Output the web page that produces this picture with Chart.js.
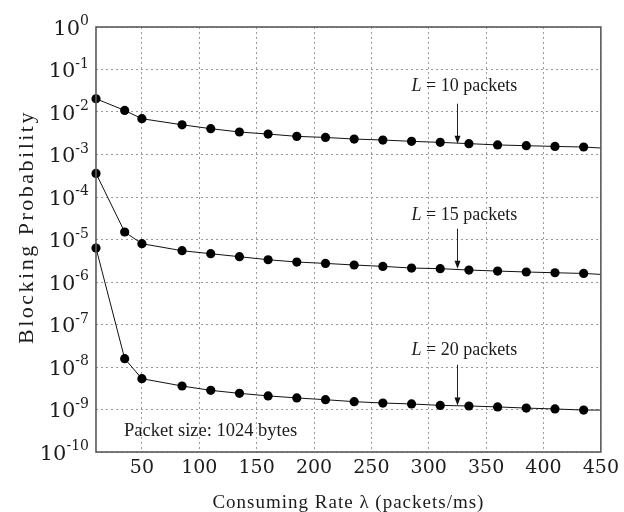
<!DOCTYPE html>
<html>
<head>
<meta charset="utf-8">
<script src="https://cdn.jsdelivr.net/npm/chart.js@4.4.1/dist/chart.umd.min.js"></script>
<style>
  html, body { margin: 0; padding: 0; background: #fff; }
  #wrap { width: 624px; height: 512px; }
</style>
</head>
<body>
<div id="wrap"><canvas id="chart" width="624" height="512"></canvas></div>
<script>
// -----------------------------------------------------------------
// data
const rates = [10, 35, 50, 85, 110, 135, 160, 185, 210, 235, 260, 285, 310, 335, 360, 385, 410, 435, 450];

const blockL10 = [2.05e-2, 1.09e-2, 6.95e-3, 5.0e-3, 4.05e-3, 3.38e-3, 3.03e-3, 2.67e-3, 2.52e-3, 2.31e-3,
  2.19e-3, 2.04e-3, 1.93e-3, 1.80e-3, 1.68e-3, 1.61e-3, 1.55e-3, 1.50e-3, 1.42e-3];
const blockL15 = [3.59e-4, 1.5e-5, 7.97e-6, 5.45e-6, 4.63e-6, 3.94e-6, 3.34e-6, 2.95e-6, 2.74e-6, 2.51e-6,
  2.33e-6, 2.13e-6, 2.06e-6, 1.91e-6, 1.81e-6, 1.72e-6, 1.65e-6, 1.59e-6, 1.51e-6];
const blockL20 = [6.3e-6, 1.57e-8, 5.31e-9, 3.57e-9, 2.82e-9, 2.40e-9, 2.09e-9, 1.87e-9, 1.70e-9, 1.53e-9,
  1.42e-9, 1.35e-9, 1.25e-9, 1.21e-9, 1.15e-9, 1.08e-9, 1.03e-9, 9.7e-10, 9.7e-10];

const xTicks = [50, 100, 150, 200, 250, 300, 350, 400, 450];
const yExponents = [0, -1, -2, -3, -4, -5, -6, -7, -8, -9, -10];

const bufferLabels = ['10', '15', '20'];

// -----------------------------------------------------------------
// annotation placement (data coords: x rate, y log10)
const arrowRate = 325;
const labelRate = 331;
const labelLog = [-1.36, -4.393, -7.569];
const arrowFromLog = [-1.805, -4.746, -7.946];
const arrowToLog = [-2.746, -5.687, -8.904];

const serif = '"DejaVu Serif", serif';
const textSerif = '"Liberation Serif", serif';
const ink = '#1c1c1c';

const toPoints = (ys) => rates.map((x, i) => ({ x, y: ys[i] }));
// last point only carries the line to the frame, no marker
const markerRadius = rates.map((x, i) => (i === rates.length - 1 ? 0 : 4.6));

function series(label, ys) {
  return {
    label,
    data: toPoints(ys),
    borderColor: '#111',
    borderWidth: 1,
    backgroundColor: '#000',
    pointBackgroundColor: '#000',
    pointBorderColor: '#000',
    pointBorderWidth: 0,
    pointRadius: markerRadius,
    pointHoverRadius: markerRadius,
    tension: 0,
    clip: 8,
  };
}

// -----------------------------------------------------------------
// frame, log tick labels, titles and annotations
const paperDecor = {
  id: 'paperDecor',
  afterDraw(chart) {
    const { ctx, chartArea: a, scales: { x, y } } = chart;
    ctx.save();

    // frame
    ctx.strokeStyle = '#5a5a5a';
    ctx.lineWidth = 1.6;
    ctx.strokeRect(a.left, a.top, a.right - a.left, a.bottom - a.top);

    // y tick labels 10^n
    ctx.fillStyle = ink;
    ctx.textBaseline = 'alphabetic';
    yExponents.forEach((e) => {
      const py = y.getPixelForValue(Math.pow(10, e));
      const sup = String(e);
      ctx.font = '14px ' + serif;
      const supW = ctx.measureText(sup).width;
      const right = 89;
      ctx.textAlign = 'left';
      ctx.fillText(sup, right - supW, py - 2);
      ctx.font = '21px ' + serif;
      ctx.textAlign = 'right';
      ctx.fillText('10', right - supW, py + 7.5);
    });

    // axis titles
    ctx.textAlign = 'center';
    ctx.font = '19px ' + textSerif;
    ctx.letterSpacing = '1px';
    ctx.fillText('Consuming Rate \u03bb (packets/ms)', (a.left + a.right) / 2, 508);
    ctx.save();
    ctx.translate(33, 227);
    ctx.rotate(-Math.PI / 2);
    ctx.font = '22px ' + textSerif;
    ctx.letterSpacing = '2.5px';
    ctx.fillText('Blocking Probability', 0, 0);
    ctx.restore();
    ctx.letterSpacing = '0px';

    // packet size note
    ctx.textAlign = 'left';
    ctx.font = '18.5px ' + textSerif;
    ctx.fillText('Packet size: 1024 bytes', x.getPixelForValue(34.4), y.getPixelForValue(Math.pow(10, -9.63)));

    // buffer size labels with arrows
    bufferLabels.forEach((lab, i) => {
      const cx = x.getPixelForValue(labelRate);
      const cy = y.getPixelForValue(Math.pow(10, labelLog[i]));
      ctx.font = 'italic 18px ' + textSerif;
      const wL = ctx.measureText('L').width;
      ctx.font = '18px ' + textSerif;
      const rest = ' = ' + lab + ' packets';
      const wR = ctx.measureText(rest).width;
      const left = cx - (wL + wR) / 2;
      ctx.textAlign = 'left';
      ctx.font = 'italic 18px ' + textSerif;
      ctx.fillText('L', left, cy + 6);
      ctx.font = '18px ' + textSerif;
      ctx.fillText(rest, left + wL, cy + 6);

      const ax = Math.round(x.getPixelForValue(arrowRate)) + 0.5;
      const y0 = y.getPixelForValue(Math.pow(10, arrowFromLog[i]));
      const y1 = y.getPixelForValue(Math.pow(10, arrowToLog[i]));
      ctx.strokeStyle = '#222';
      ctx.lineWidth = 1;
      ctx.beginPath();
      ctx.moveTo(ax, y0);
      ctx.lineTo(ax, y1 - 6);
      ctx.stroke();
      ctx.fillStyle = '#111';
      ctx.beginPath();
      ctx.moveTo(ax - 3, y1 - 8);
      ctx.lineTo(ax + 3, y1 - 8);
      ctx.lineTo(ax, y1);
      ctx.closePath();
      ctx.fill();
      ctx.fillStyle = ink;
    });

    ctx.restore();
  },
};

// -----------------------------------------------------------------
// chart
const ctx = document.getElementById('chart').getContext('2d');

const chart = new Chart(ctx, {
  type: 'line',
  data: {
    datasets: [
      series('L = 10 packets', blockL10),
      series('L = 15 packets', blockL15),
      series('L = 20 packets', blockL20),
    ],
  },
  options: {
    responsive: false,
    animation: false,
    devicePixelRatio: 1,
    layout: { padding: { left: 12, top: 27, right: 18, bottom: 0 } },
    plugins: {
      legend: { display: false },
      tooltip: { enabled: false },
    },
    scales: {
      x: {
        type: 'linear',
        min: 10,
        max: 450,
        afterBuildTicks: (scale) => {
          scale.ticks = xTicks.map((v) => ({ value: v }));
        },
        afterFit: (scale) => {
          scale.height = 60;
        },
        ticks: {
          color: ink,
          font: { family: serif, size: 19 },
          padding: 5,
          maxRotation: 0,
          callback: (v) => String(v),
        },
        grid: { color: '#9a9a9a', lineWidth: 1, drawTicks: false },
        border: { display: false, dash: [2, 3] },
      },
      y: {
        type: 'logarithmic',
        min: 1e-10,
        max: 1,
        afterBuildTicks: (scale) => {
          scale.ticks = yExponents.map((e) => ({ value: Math.pow(10, e) }));
        },
        afterFit: (scale) => {
          scale.width = 84;
        },
        ticks: { display: false },
        grid: { color: '#9a9a9a', lineWidth: 1, drawTicks: false },
        border: { display: false, dash: [2, 3] },
      },
    },
  },
  plugins: [paperDecor],
});
</script>
</body>
</html>
